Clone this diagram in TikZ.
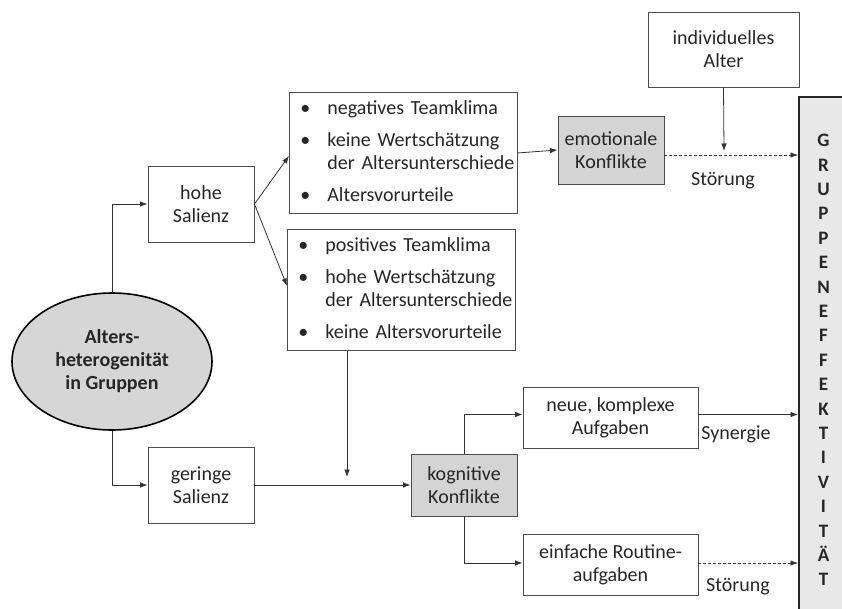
\documentclass[tikz,border=0pt]{standalone}
\usepackage{fontspec}
\setmainfont{Carlito}
\usetikzlibrary{shapes.geometric,arrows.meta}

\begin{document}
\begin{tikzpicture}[x=1pt, y=-1pt,
  box/.style={draw=black!70, line width=0.9pt, align=center, inner sep=2pt,
    text=black!85, font=\fontsize{20}{23}\selectfont},
  grau/.style={fill=black!17},
  liste/.style={box, anchor=north west, align=left, minimum width=228pt,
    minimum height=121pt, text width=206pt, inner xsep=11pt, inner ysep=0pt},
  pfeil/.style={draw=black!80, line width=0.8pt, -{Latex[length=7.5pt,width=5.5pt]}},
  stoer/.style={pfeil, dashed, dash pattern=on 3pt off 2pt},
  beschr/.style={text=black!85, font=\fontsize{20}{23}\selectfont, inner sep=0pt}
]
  \useasboundingbox (0,0) rectangle (842,608);

  % Nodes
  \node[box, ellipse, fill=black!16, draw=black, line width=1.6pt, minimum width=200pt,
    minimum height=137pt, inner sep=0pt, font=\fontsize{20}{23}\selectfont\bfseries]
    (alt) at (112,361.5) {Alters-\\heterogenität\\in Gruppen};
  \node[box, minimum width=106pt, minimum height=76pt] (hoch) at (201,204) {hohe\\Salienz};
  \node[box, minimum width=106pt, minimum height=76pt] (gering) at (201,485) {geringe\\Salienz};

  \node[liste] (neg) at (289,92) {%
    \begin{tabular}{@{}l@{\hspace{17pt}}l@{}}
      \textbullet & negatives Teamklima\\[9pt]
      \textbullet & keine Wertschätzung\\
                  & der Altersunterschiede\\[9pt]
      \textbullet & Altersvorurteile
    \end{tabular}};
  \node[liste] (pos) at (287,229) {%
    \begin{tabular}{@{}l@{\hspace{17pt}}l@{}}
      \textbullet & positives Teamklima\\[9pt]
      \textbullet & hohe Wertschätzung\\
                  & der Altersunterschiede\\[9pt]
      \textbullet & keine Altersvorurteile
    \end{tabular}};

  \node[box, grau, minimum width=106pt, minimum height=68pt] (emo) at (611,150) {emotionale\\Konflikte};
  \node[box, minimum width=151pt, minimum height=75pt] (ind) at (723.5,49.5) {individuelles\\Alter};
  \node[box, grau, minimum width=106pt, minimum height=62pt] (kog) at (464,485) {kognitive\\Konflikte};
  \node[box, minimum width=175pt, minimum height=61pt] (neu) at (610.5,417.5) {neue, komplexe\\Aufgaben};
  \node[box, minimum width=175pt, minimum height=61pt] (rout) at (610.5,565) {einfache Routine-\\aufgaben};

  \node[box, fill=black!9, draw=black!85, line width=2pt, minimum width=49pt, minimum height=526pt,
    font=\fontsize{19}{24.4}\selectfont\bfseries] (ge) at (823.5,360)
    {G\\R\\U\\P\\P\\E\\N\\E\\F\\F\\E\\K\\T\\I\\V\\I\\T\\Ä\\T};

  \coordinate (ein) at (724,151);
  \coordinate (posab) at (347,477);

  % Arrows
  \draw[pfeil] (alt.north) |- (hoch.west);
  \draw[pfeil] (alt.south) |- (gering.west);
  \draw[pfeil] (hoch.east) -- ([yshift=-3pt]neg.west);
  \draw[pfeil] (hoch.east) -- ([yshift=4pt]pos.west);
  \draw[pfeil] (neg.east) -- (emo.west);
  \draw[stoer] ([yshift=-5pt]emo.east) -- ([yshift=-5pt]emo.east -| ge.west);
  \draw[pfeil] (ind.south) -- (ein);
  \draw[pfeil] (pos.south -| posab) -- (posab);
  \draw[pfeil] (gering.east) -- (kog.west);
  \draw[pfeil] (kog.north) |- ([yshift=3pt]neu.west);
  \draw[pfeil] (kog.south) |- ([yshift=2pt]rout.west);
  \draw[pfeil] ([yshift=3pt]neu.east) -- ([yshift=3pt]neu.east -| ge.west);
  \draw[stoer] ([yshift=2pt]rout.east) -- ([yshift=2pt]rout.east -| ge.west);

  % Labels
  \node[beschr] (st1) at (723,181) {Störung};
  \node[beschr] (syn) at (736,434) {Synergie};
  \node[beschr] (st2) at (738,587) {Störung};
\end{tikzpicture}
\end{document}
